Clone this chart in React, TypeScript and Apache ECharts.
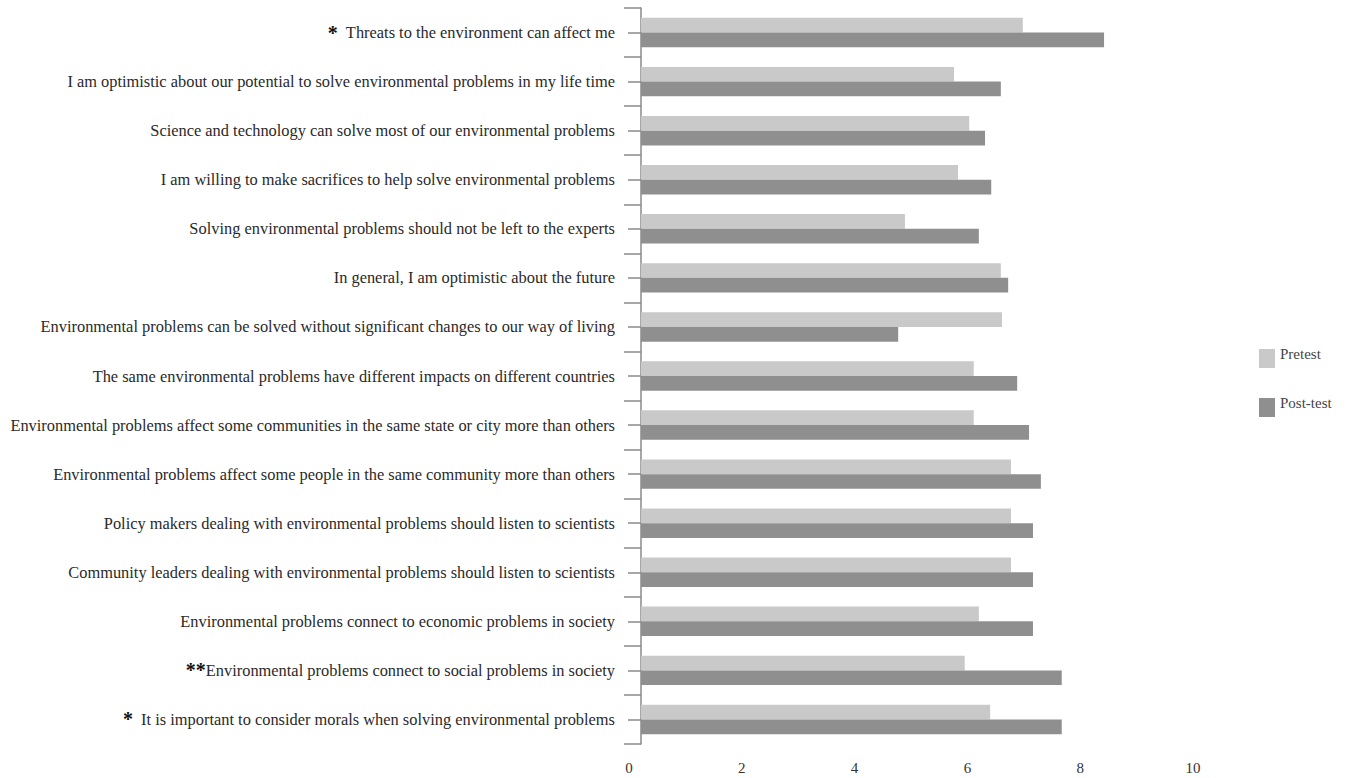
import React, { useEffect, useRef } from "react";
import * as echarts from "echarts";

const categories = [
  "{s|*}  Threats to the environment can affect me",
  "I am optimistic about our potential to solve environmental problems in my life time",
  "Science and technology can solve most of our environmental problems",
  "I am willing to make sacrifices to help solve environmental problems",
  "Solving environmental problems should not be left to the experts",
  "In general, I am optimistic about the future",
  "Environmental problems can be solved without significant changes to our way of living",
  "The same environmental problems have different impacts on different countries",
  "Environmental problems affect some communities in the same state or city more than others",
  "Environmental problems affect some people in the same community more than others",
  "Policy makers dealing with environmental problems should listen to scientists",
  "Community leaders dealing with environmental problems should listen to scientists",
  "Environmental problems connect to economic problems in society",
  "{s|**}Environmental problems connect to social problems in society",
  "{s|*}  It is important to consider morals when solving environmental problems",
];

const pretest = [6.77, 5.55, 5.82, 5.62, 4.68, 6.38, 6.4, 5.9, 5.9, 6.56, 6.56, 6.56, 5.99, 5.74, 6.19];
const posttest = [8.21, 6.38, 6.1, 6.21, 5.99, 6.51, 4.56, 6.67, 6.88, 7.09, 6.95, 6.95, 6.95, 7.46, 7.46];

const seriesNames = ["Pretest", "Post-test"];
const xTicks = { min: 0, max: 10, interval: 2 };

const FONT = "'Liberation Serif', 'DejaVu Serif', serif";

export default function App() {
  const ref = useRef<HTMLDivElement>(null);

  useEffect(() => {
    const chart = echarts.init(ref.current!, undefined, { renderer: "svg" });
    chart.setOption({
      animation: false,
      backgroundColor: "#ffffff",
      grid: { left: 641, right: 143, top: 8, bottom: 34, containLabel: false },
      legend: {
        orient: "vertical",
        left: 1259,
        top: 346,
        padding: 0,
        itemWidth: 16,
        itemHeight: 19,
        itemGap: 27,
        icon: "rect",
        formatter: "{t|{name}}",
        textStyle: {
          fontFamily: FONT,
          fontSize: 15,
          color: "#444",
          rich: { t: { fontFamily: FONT, fontSize: 15, color: "#444", padding: [0, 0, 10, 0] } },
        },
        data: seriesNames,
      },
      xAxis: {
        type: "value",
        min: xTicks.min,
        max: xTicks.max,
        interval: xTicks.interval,
        axisLine: { show: false },
        axisTick: { show: false },
        splitLine: { show: false },
        axisLabel: {
          fontFamily: FONT,
          fontSize: 15,
          color: "#333",
          margin: 16,
          padding: [0, 24, 0, 0],
        },
      },
      yAxis: [
        {
          type: "category",
          inverse: true,
          data: categories,
          axisLine: { show: true, lineStyle: { color: "#8a8a8a", width: 1.5 } },
          axisTick: { show: true, length: 17, lineStyle: { color: "#8a8a8a", width: 1.5 } },
          axisLabel: {
            fontFamily: FONT,
            fontSize: 16.4,
            color: "#2a2a2a",
            margin: 26,
            rich: {
              s: { fontSize: 20, fontWeight: "bold", color: "#111", fontFamily: FONT },
            },
          },
        },
        {
          type: "category",
          inverse: true,
          position: "left",
          data: categories,
          axisLine: { show: false },
          axisLabel: { show: false },
          axisTick: { show: true, alignWithLabel: true, length: 13, lineStyle: { color: "#8a8a8a", width: 1.5 } },
        },
      ],
      series: [
        {
          name: seriesNames[0],
          type: "bar",
          data: pretest,
          yAxisIndex: 0,
          barGap: "0%",
          barCategoryGap: "40%",
          itemStyle: { color: "#c9c9c9" },
        },
        {
          name: seriesNames[1],
          type: "bar",
          data: posttest,
          yAxisIndex: 0,
          barGap: "0%",
          barCategoryGap: "40%",
          itemStyle: { color: "#8f8f8f" },
        },
      ],
    });
    return () => chart.dispose();
  }, []);

  return (
    <div
      ref={ref}
      style={{ position: "fixed", left: 0, top: 0, width: 1348, height: 778, background: "#fff" }}
    />
  );
}
